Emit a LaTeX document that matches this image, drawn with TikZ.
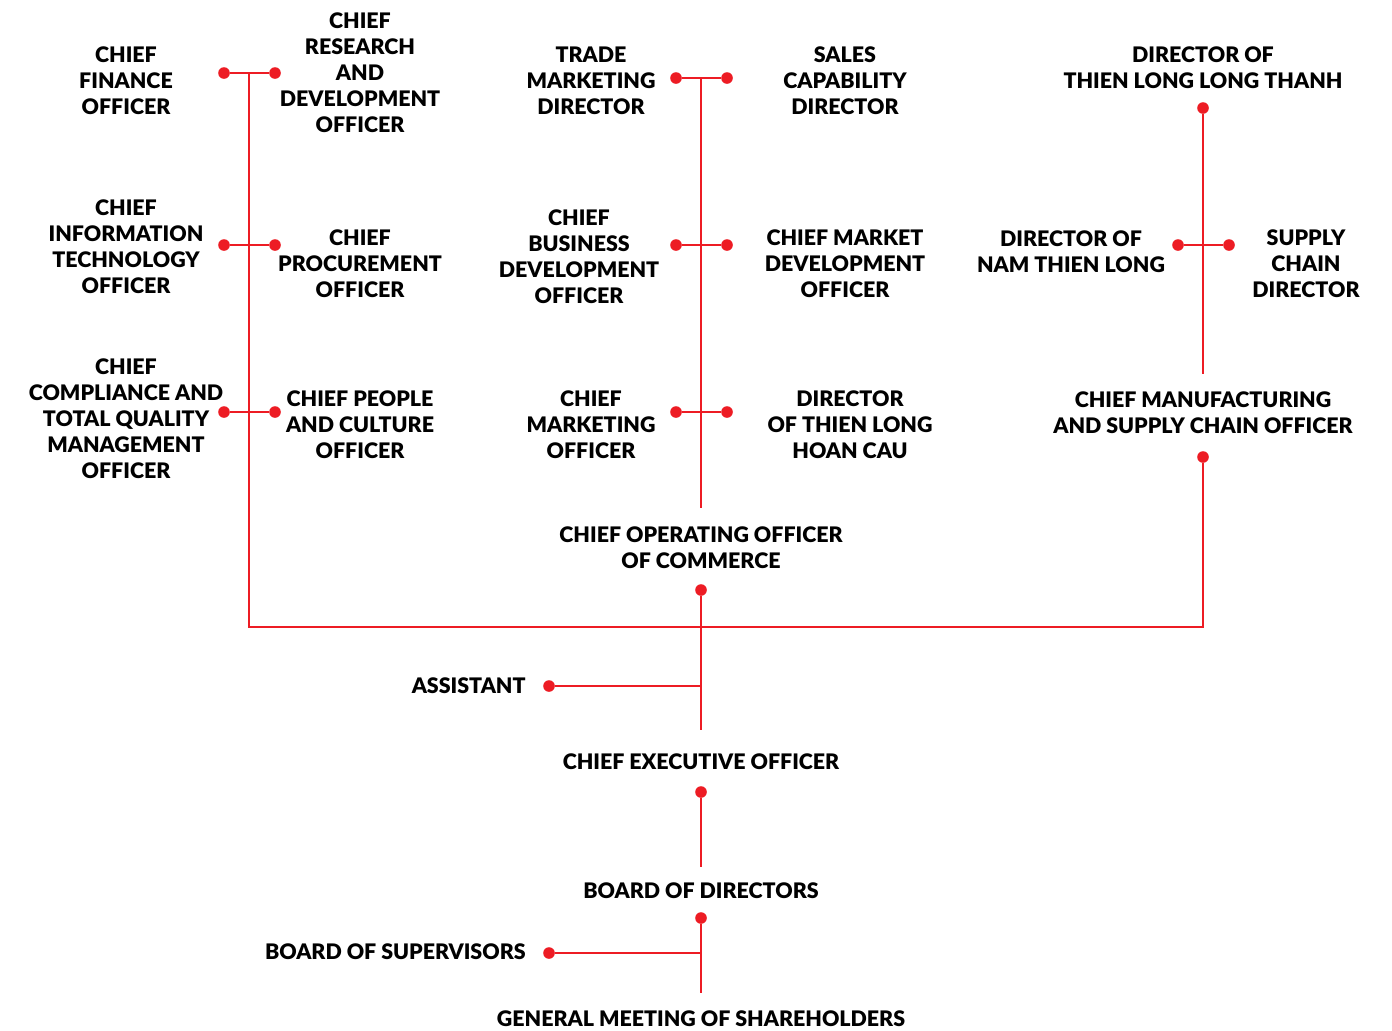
\documentclass[tikz,border=0pt]{standalone}
\usepackage{fontspec}
\setmainfont{Lato}[BoldFont={Lato Black}]
\begin{document}
\begin{tikzpicture}[x=0.5pt,y=-0.5pt,
  link/.style={draw=orgred,line width=1pt},
  dot/.style={circle,fill=orgred,inner sep=0pt,minimum size=5.8pt},
  post/.style={align=center,inner sep=0pt,font=\fontsize{10.7}{13}\selectfont\bfseries}]
\definecolor{orgred}{HTML}{ED1C24}
\useasboundingbox (0,0) rectangle (1392,1030);

% ---- left column ----
\node[post] (cfo) at (126,81) {CHIEF\\FINANCE\\OFFICER};
\node[post] (crd) at (360,73) {CHIEF\\RESEARCH\\AND\\DEVELOPMENT\\OFFICER};
\node[post] (cit) at (126,247) {CHIEF\\INFORMATION\\TECHNOLOGY\\OFFICER};
\node[post] (cpo) at (360,264) {CHIEF\\PROCUREMENT\\OFFICER};
\node[post] (cqm) at (126,419) {CHIEF\\COMPLIANCE AND\\TOTAL QUALITY\\MANAGEMENT\\OFFICER};
\node[post] (cpc) at (360,425) {CHIEF PEOPLE\\AND CULTURE\\OFFICER};

% ---- middle column ----
\node[post] (tmd) at (591,81) {TRADE\\MARKETING\\DIRECTOR};
\node[post] (scd) at (845,81) {SALES\\CAPABILITY\\DIRECTOR};
\node[post] (cbd) at (579,257) {CHIEF\\BUSINESS\\DEVELOPMENT\\OFFICER};
\node[post] (cmd) at (845,264) {CHIEF MARKET\\DEVELOPMENT\\OFFICER};
\node[post] (cmo) at (591,425) {CHIEF\\MARKETING\\OFFICER};
\node[post] (hc) at (850,425) {DIRECTOR\\OF THIEN LONG\\HOAN CAU};
\node[post] (coo) at (701,548) {CHIEF OPERATING OFFICER\\OF COMMERCE};

% ---- right column ----
\node[post] (dlt) at (1203,68) {DIRECTOR OF\\THIEN LONG LONG THANH};
\node[post] (ntl) at (1071,252) {DIRECTOR OF\\NAM THIEN LONG};
\node[post] (scdir) at (1306,264) {SUPPLY\\CHAIN\\DIRECTOR};
\node[post] (cms) at (1203,413) {CHIEF MANUFACTURING\\AND SUPPLY CHAIN OFFICER};

% ---- governance ----
\node[post,anchor=east] (asst) at (526,686) {ASSISTANT};
\node[post] (ceo) at (701,762) {CHIEF EXECUTIVE OFFICER};
\node[post] (bod) at (701,891) {BOARD OF DIRECTORS};
\node[post,anchor=east] (bos) at (526,952) {BOARD OF SUPERVISORS};
\node[post] (gms) at (701,1019) {GENERAL MEETING OF SHAREHOLDERS};

% ---- dots ----
\foreach \n/\x/\y in {l1a/224/73,l1b/275/73,l2a/224/245,l2b/275/245,l3a/224/412,l3b/275/412,
  m1a/676/78,m1b/727/78,m2a/676/245,m2b/727/245,m3a/676/412,m3b/727/412,
  r0/1203/108,r2a/1178/245,r2b/1229/245,rc/1203/457,
  coodot/701/590,asdot/549/686,ceodot/701/792,boddot/701/918,bosdot/549/953}
  \node[dot] (\n) at (\x,\y) {};

% ---- junctions and free ends ----
\coordinate (lj1) at (249,73);
\coordinate (lbase) at (249,627);
\coordinate (mtop) at (701,78);
\coordinate (mend) at (701,508);
\coordinate (rbase) at (1203,627);
\coordinate (rend) at (1203,374);
\coordinate (asj) at (701,686);
\coordinate (cooend) at (701,730);
\coordinate (ceoend) at (701,867);
\coordinate (bosj) at (701,953);
\coordinate (bodend) at (701,993);

% ---- connectors ----
\draw[link] (l1a) -- (l1b);
\draw[link] (l2a) -- (l2b);
\draw[link] (l3a) -- (l3b);
\draw[link] (lj1) -- (lbase) -- (rbase) -- (rc);
\draw[link] (m1a) -- (m1b);
\draw[link] (m2a) -- (m2b);
\draw[link] (m3a) -- (m3b);
\draw[link] (mtop) -- (mend);
\draw[link] (r0) -- (rend);
\draw[link] (r2a) -- (r2b);
\draw[link] (coodot) -- (cooend);
\draw[link] (asdot) -- (asj);
\draw[link] (ceodot) -- (ceoend);
\draw[link] (boddot) -- (bodend);
\draw[link] (bosdot) -- (bosj);
\end{tikzpicture}
\end{document}
